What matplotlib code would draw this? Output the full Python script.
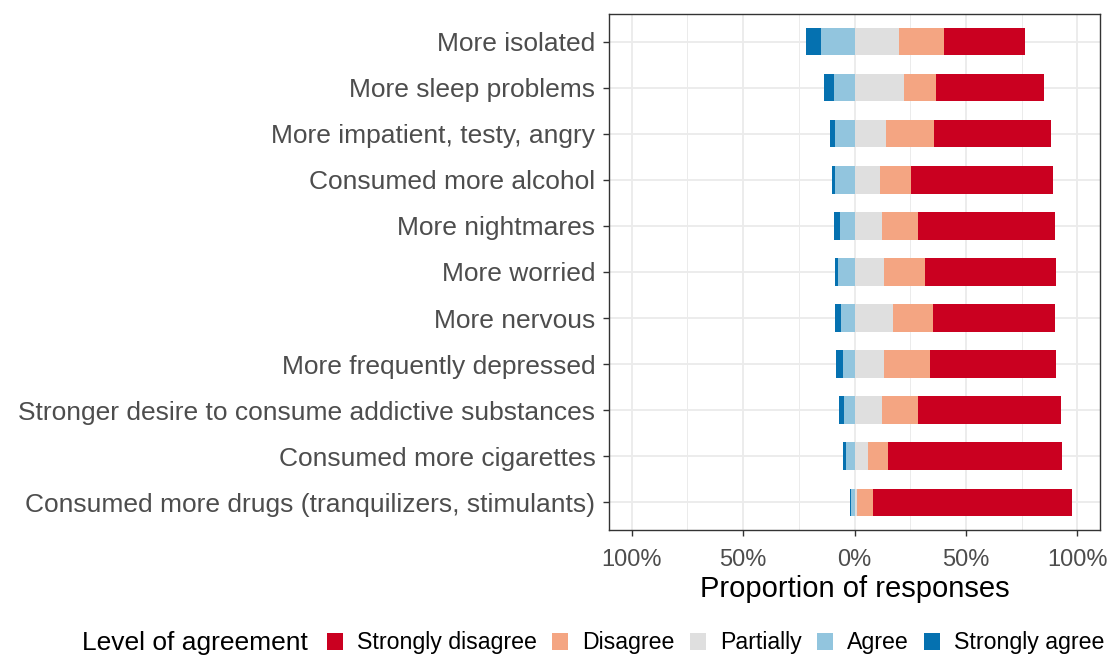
import matplotlib
matplotlib.use("Agg")
import matplotlib.pyplot as plt
from matplotlib.patches import Patch
from matplotlib.ticker import FixedLocator

plt.rcParams['font.family'] = ['Liberation Sans', 'DejaVu Sans']

items = ['More isolated', 'More sleep problems', 'More impatient, testy, angry',
         'Consumed more alcohol', 'More nightmares', 'More worried', 'More nervous',
         'More frequently depressed', 'Stronger desire to consume addictive substances',
         'Consumed more cigarettes', 'Consumed more drugs (tranquilizers, stimulants)']

# shares in percent
strongly_agree = [6.7, 4.6, 2.1, 1.2, 2.5, 1.4, 2.3, 3.2, 2.2, 1.7, 0.3]
agree = [15.0, 9.1, 8.9, 8.9, 6.7, 7.5, 6.3, 5.1, 4.8, 3.7, 1.6]
partially = [20.1, 22.1, 14.3, 11.2, 12.4, 13.0, 17.3, 13.0, 12.5, 6.0, 1.3]
disagree = [20.0, 14.3, 21.5, 14.0, 16.2, 18.8, 17.7, 20.9, 16.1, 9.2, 6.8]
strongly_disagree = [36.5, 48.8, 52.2, 63.7, 61.2, 58.6, 55.1, 56.6, 64.0, 77.9, 89.4]

levels = ['Strongly disagree', 'Disagree', 'Partially', 'Agree', 'Strongly agree']
colors = ['#CA0020', '#F4A582', '#DFDFDF', '#92C5DE', '#0571B0']

fig = plt.figure(figsize=(11.12, 6.6), dpi=100)
ax = fig.add_axes([0.548, 0.197, 0.441, 0.782])

n = len(items)
y = [n - 1 - i for i in range(n)]
h = 0.6

for i in range(n):
    p = partially[i] / 100
    d = disagree[i] / 100
    sd = strongly_disagree[i] / 100
    a = agree[i] / 100
    sa = strongly_agree[i] / 100
    ax.barh(y[i], p, left=0, height=h, color=colors[2], zorder=3)
    ax.barh(y[i], d, left=p, height=h, color=colors[1], zorder=3)
    ax.barh(y[i], sd, left=p + d, height=h, color=colors[0], zorder=3)
    ax.barh(y[i], -a, left=0, height=h, color=colors[3], zorder=3)
    ax.barh(y[i], -sa, left=-a, height=h, color=colors[4], zorder=3)

ax.set_xlim(-1.1, 1.1)
ax.set_ylim(-0.6, n - 0.4)
ax.set_xticks([-1, -0.5, 0, 0.5, 1])
ax.set_xticklabels(['100%', '50%', '0%', '50%', '100%'])
ax.xaxis.set_minor_locator(FixedLocator([-0.75, -0.25, 0.25, 0.75]))
ax.set_yticks(y)
ax.set_yticklabels(items)

ax.grid(True, which='major', color='#EBEBEB', linewidth=1.3, zorder=0)
ax.grid(True, which='minor', axis='x', color='#EBEBEB', linewidth=0.7, zorder=0)
ax.tick_params(axis='both', which='major', labelcolor='#4D4D4D',
               color='#333333', length=4, width=1)
ax.tick_params(axis='x', which='major', labelsize=17, pad=9.5)
ax.tick_params(axis='y', which='major', labelsize=19, pad=6)
ax.tick_params(axis='x', which='minor', length=0)
for s in ax.spines.values():
    s.set_color('#333333')
    s.set_linewidth(1)

ax.set_xlabel('Proportion of responses', fontsize=21, color='black', labelpad=3)

handles = [Patch(facecolor=c, edgecolor='none') for c in colors]
fig.text(0.074, 0.026, 'Level of agreement', fontsize=19, va='center', ha='left')
fig.legend(handles, levels, loc='center left', bbox_to_anchor=(0.294, 0.026),
           ncol=5, frameon=False, fontsize=16.7, handlelength=0.7, handleheight=0.72,
           handletextpad=0.6, columnspacing=0.65, borderaxespad=0, borderpad=0)

fig.savefig('out.png', dpi=100)
